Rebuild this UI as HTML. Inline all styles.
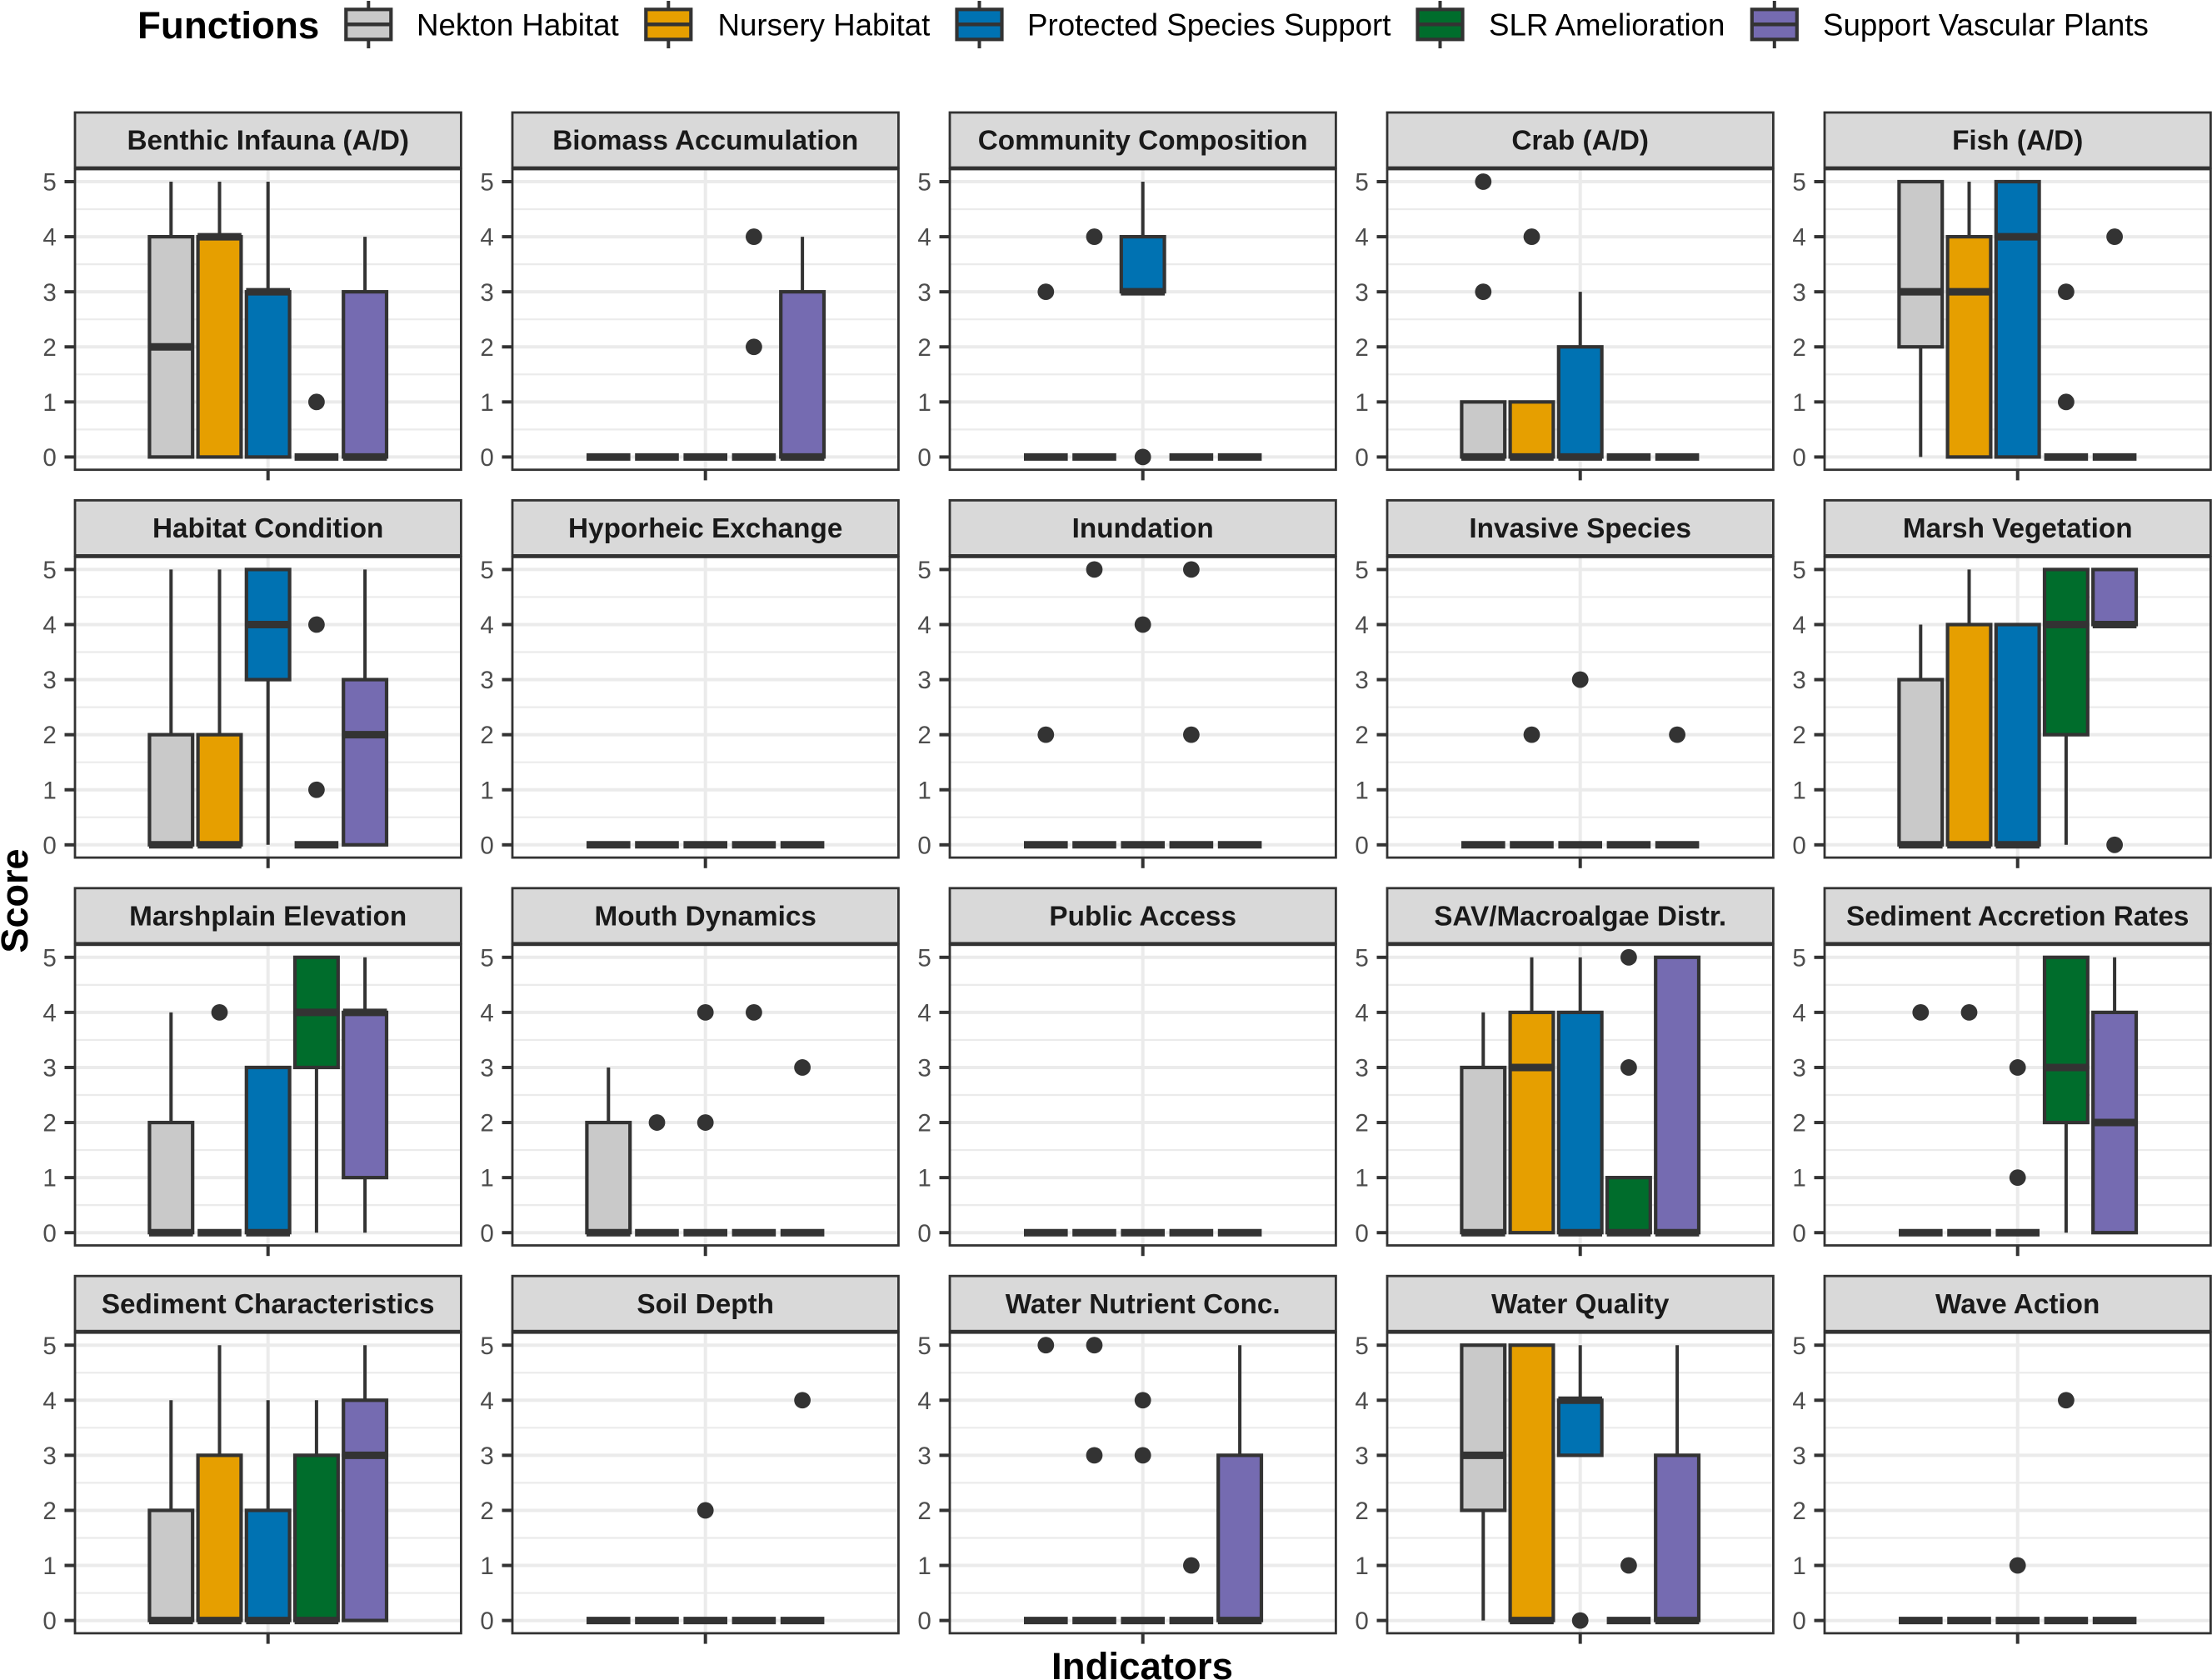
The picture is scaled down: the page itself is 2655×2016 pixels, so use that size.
<!DOCTYPE html>
<html lang="en">
<head>
<meta charset="utf-8">
<title>Indicator scores by function</title>
<style>
  html, body { margin: 0; padding: 0; background: #ffffff; }
  svg { display: block; font-family: "Liberation Sans", Arial, sans-serif; }
</style>
</head>
<body>
<svg id="chart" xmlns="http://www.w3.org/2000/svg" width="2655" height="2016" viewBox="0 0 2655 2016">
  <rect x="0" y="0" width="2655" height="2016" fill="#ffffff"/>

  <g>
    <text x="165" y="46" font-size="45.7" font-weight="700" fill="#000000">Functions</text>

    <g>
      <path d="M442.3 1V58" stroke="#333333" stroke-width="4" fill="none"/>
      <rect x="415.3" y="11.3" width="54" height="36" fill="#c9c9c9" stroke="#333333" stroke-width="4.2"/>
      <path d="M415.3 29.3H469.3" stroke="#333333" stroke-width="4.5" fill="none"/>
      <text x="500" y="42.5" font-size="36.7" fill="#000000">Nekton Habitat</text>
    </g>
    <g>
      <path d="M802.3 1V58" stroke="#333333" stroke-width="4" fill="none"/>
      <rect x="775.3" y="11.3" width="54" height="36" fill="#E69F00" stroke="#333333" stroke-width="4.2"/>
      <path d="M775.3 29.3H829.3" stroke="#333333" stroke-width="4.5" fill="none"/>
      <text x="861.5" y="42.5" font-size="36.7" fill="#000000">Nursery Habitat</text>
    </g>
    <g>
      <path d="M1175.5 1V58" stroke="#333333" stroke-width="4" fill="none"/>
      <rect x="1148.5" y="11.3" width="54" height="36" fill="#0072B2" stroke="#333333" stroke-width="4.2"/>
      <path d="M1148.5 29.3H1202.5" stroke="#333333" stroke-width="4.5" fill="none"/>
      <text x="1233" y="42.5" font-size="36.7" fill="#000000">Protected Species Support</text>
    </g>
    <g>
      <path d="M1728.5 1V58" stroke="#333333" stroke-width="4" fill="none"/>
      <rect x="1701.5" y="11.3" width="54" height="36" fill="#006D2C" stroke="#333333" stroke-width="4.2"/>
      <path d="M1701.5 29.3H1755.5" stroke="#333333" stroke-width="4.5" fill="none"/>
      <text x="1787" y="42.5" font-size="36.7" fill="#000000">SLR Amelioration</text>
    </g>
    <g>
      <path d="M2129.8 1V58" stroke="#333333" stroke-width="4" fill="none"/>
      <rect x="2102.8" y="11.3" width="54" height="36" fill="#756BB1" stroke="#333333" stroke-width="4.2"/>
      <path d="M2102.8 29.3H2156.8" stroke="#333333" stroke-width="4.5" fill="none"/>
      <text x="2188" y="42.5" font-size="36.7" fill="#000000">Support Vascular Plants</text>
    </g>
  </g>

  <g id="panels"></g>

  <text transform="translate(33 1081) rotate(-90)" text-anchor="middle" font-size="45" font-weight="700" fill="#000000">Score</text>
  <text x="1371" y="2015" text-anchor="middle" font-size="45.6" font-weight="700" fill="#000000">Indicators</text>
</svg>

<script>
// ---- chart data (one row per facet, one column per function) ----
const functionNames = ["Nekton Habitat", "Nursery Habitat", "Protected Species Support", "SLR Amelioration", "Support Vascular Plants"];
const functionColors = ["#c9c9c9", "#E69F00", "#0072B2", "#006D2C", "#756BB1"];
const panelTitles = [
  "Benthic Infauna (A/D)", "Biomass Accumulation", "Community Composition", "Crab (A/D)", "Fish (A/D)",
  "Habitat Condition", "Hyporheic Exchange", "Inundation", "Invasive Species", "Marsh Vegetation",
  "Marshplain Elevation", "Mouth Dynamics", "Public Access", "SAV/Macroalgae Distr.", "Sediment Accretion Rates",
  "Sediment Characteristics", "Soil Depth", "Water Nutrient Conc.", "Water Quality", "Wave Action"
];
const yTickLabels = [0, 1, 2, 3, 4, 5];
const yMinorBreaks = [0.5, 1.5, 2.5, 3.5, 4.5];

const whiskerLow = [
  [0,0,0,0,0],[0,0,0,0,0],[0,0,3,0,0],[0,0,0,0,0],[0,0,0,0,0],
  [0,0,0,0,0],[0,0,0,0,0],[0,0,0,0,0],[0,0,0,0,0],[0,0,0,0,4],
  [0,0,0,0,0],[0,0,0,0,0],[0,0,0,0,0],[0,0,0,0,0],[0,0,0,0,0],
  [0,0,0,0,0],[0,0,0,0,0],[0,0,0,0,0],[0,0,3,0,0],[0,0,0,0,0]
];
const quartile1 = [
  [0,0,0,0,0],[0,0,0,0,0],[0,0,3,0,0],[0,0,0,0,0],[2,0,0,0,0],
  [0,0,3,0,0],[0,0,0,0,0],[0,0,0,0,0],[0,0,0,0,0],[0,0,0,2,4],
  [0,0,0,3,1],[0,0,0,0,0],[0,0,0,0,0],[0,0,0,0,0],[0,0,0,2,0],
  [0,0,0,0,0],[0,0,0,0,0],[0,0,0,0,0],[2,0,3,0,0],[0,0,0,0,0]
];
const medians = [
  [2,4,3,0,0],[0,0,0,0,0],[0,0,3,0,0],[0,0,0,0,0],[3,3,4,0,0],
  [0,0,4,0,2],[0,0,0,0,0],[0,0,0,0,0],[0,0,0,0,0],[0,0,0,4,4],
  [0,0,0,4,4],[0,0,0,0,0],[0,0,0,0,0],[0,3,0,0,0],[0,0,0,3,2],
  [0,0,0,0,3],[0,0,0,0,0],[0,0,0,0,0],[3,0,4,0,0],[0,0,0,0,0]
];
const quartile3 = [
  [4,4,3,0,3],[0,0,0,0,3],[0,0,4,0,0],[1,1,2,0,0],[5,4,5,0,0],
  [2,2,5,0,3],[0,0,0,0,0],[0,0,0,0,0],[0,0,0,0,0],[3,4,4,5,5],
  [2,0,3,5,4],[2,0,0,0,0],[0,0,0,0,0],[3,4,4,1,5],[0,0,0,5,4],
  [2,3,2,3,4],[0,0,0,0,0],[0,0,0,0,3],[5,5,4,0,3],[0,0,0,0,0]
];
const whiskerHigh = [
  [5,5,5,0,4],[0,0,0,0,4],[0,0,5,0,0],[1,1,3,0,0],[5,5,5,0,0],
  [5,5,5,0,5],[0,0,0,0,0],[0,0,0,0,0],[0,0,0,0,0],[4,5,4,5,5],
  [4,0,3,5,5],[3,0,0,0,0],[0,0,0,0,0],[4,5,5,1,5],[0,0,0,5,5],
  [4,5,4,4,5],[0,0,0,0,0],[0,0,0,0,5],[5,5,5,0,5],[0,0,0,0,0]
];
const outlierValues = [
  [[],[],[],[1],[]],
  [[],[],[],[4,2],[]],
  [[3],[4],[0],[],[]],
  [[5,3],[4],[],[],[]],
  [[],[],[],[3,1],[4]],
  [[],[],[],[4,1],[]],
  [[],[],[],[],[]],
  [[2],[5],[4],[5,2],[]],
  [[],[2],[3],[],[2]],
  [[],[],[],[],[0]],
  [[],[4],[],[],[]],
  [[],[2],[4,2],[4],[3]],
  [[],[],[],[],[]],
  [[],[],[],[5,3],[]],
  [[4],[4],[3,1],[],[]],
  [[],[],[],[],[]],
  [[],[],[2],[],[4]],
  [[5],[5,3],[4,3],[1],[]],
  [[],[],[0],[1],[]],
  [[],[],[1],[4],[]]
];

// ---- layout constants ----
const NS = "http://www.w3.org/2000/svg";
const COLUMNS = 5;
const panelLeft0 = 90, panelWidth = 463.4, colPitch = 525;
const rowPitch = 465.4, stripTop0 = 135, stripHeight = 66, panelTop0 = 203;
const y5Row0 = 218, yUnit = 66.08, panelBottomPad = 15.3;
const dodge = 58.2, boxHalf = 25.9;
const darkInk = "#333333", gridInk = "#ebebeb";

function panelX(col) { return panelLeft0 + col * colPitch; }
function xScale(col, seriesIndex) { return panelX(col) + panelWidth / 2 + (seriesIndex - 2) * dodge; }
function yScale(row, value) { return y5Row0 + row * rowPitch + (5 - value) * yUnit; }

function make(tag, attrs, parent) {
  const el = document.createElementNS(NS, tag);
  for (const key in attrs) el.setAttribute(key, attrs[key]);
  parent.appendChild(el);
  return el;
}
function slug(text) { return text.toLowerCase().replace(/[^a-z0-9]+/g, "-").replace(/^-|-$/g, ""); }

const root = document.getElementById("panels");

panelTitles.forEach(function (title, p) {
  const col = p % COLUMNS;
  const row = Math.floor(p / COLUMNS);
  const left = panelX(col);
  const right = left + panelWidth;
  const center = left + panelWidth / 2;
  const top = panelTop0 + row * rowPitch;
  const bottom = yScale(row, 0) + panelBottomPad;

  const g = make("g", {}, root);
  
  

  const bg = make("rect", { x: left, y: top, width: panelWidth, height: bottom - top, fill: "#ffffff" }, g);
  
  

  yMinorBreaks.forEach(function (v) {
    const minor = make("line", { x1: left, x2: right, y1: yScale(row, v), y2: yScale(row, v), stroke: gridInk, "stroke-width": 2.2 }, g);
    
    
  });
  yTickLabels.forEach(function (v) {
    const major = make("line", { x1: left, x2: right, y1: yScale(row, v), y2: yScale(row, v), stroke: gridInk, "stroke-width": 4 }, g);
    
    
  });
  const vGrid = make("line", { x1: center, x2: center, y1: top, y2: bottom, stroke: gridInk, "stroke-width": 4 }, g);
  
  

  functionNames.forEach(function (fn, s) {
    const cx = xScale(col, s);
    const q1 = quartile1[p][s], q3 = quartile3[p][s];
    const lo = whiskerLow[p][s], hi = whiskerHigh[p][s], med = medians[p][s];

    const box = make("g", {}, g);
    
    

    outlierValues[p][s].forEach(function (v) {
      const dot = make("circle", { cx: cx, cy: yScale(row, v), r: 9.9, fill: darkInk }, box);
      
      
    });

    if (hi > q3) {
      const upper = make("line", { x1: cx, x2: cx, y1: yScale(row, q3), y2: yScale(row, hi), stroke: darkInk, "stroke-width": 4 }, box);
      
      
    }
    if (lo < q1) {
      const lower = make("line", { x1: cx, x2: cx, y1: yScale(row, q1), y2: yScale(row, lo), stroke: darkInk, "stroke-width": 4 }, box);
      
      
    }
    if (q3 > q1) {
      const body = make("rect", {
        x: cx - boxHalf, y: yScale(row, q3), width: boxHalf * 2, height: yScale(row, q1) - yScale(row, q3),
        fill: functionColors[s], stroke: darkInk, "stroke-width": 4.2
      }, box);
      
      
    }
    // A box collapsed onto one of its own outliers shows only the dot, no median bar.
    const isOutlierOnly = q1 === q3 && outlierValues[p][s].indexOf(q1) !== -1;
    if (!isOutlierOnly) {
      const medianBar = make("line", {
        x1: cx - 26.3, x2: cx + 26.3, y1: yScale(row, med), y2: yScale(row, med), stroke: darkInk, "stroke-width": 9
      }, box);
      
      
    }
  });

  const border = make("rect", { x: left, y: top, width: panelWidth, height: bottom - top, fill: "none", stroke: darkInk, "stroke-width": 2.8 }, g);
  
  

  const strip = make("rect", {
    x: left, y: stripTop0 + row * rowPitch, width: panelWidth, height: stripHeight,
    fill: "#d9d9d9", stroke: darkInk, "stroke-width": 2.8
  }, g);
  
  

  const stripLabel = make("text", {
    x: center, y: stripTop0 + row * rowPitch + 44.7, "text-anchor": "middle",
    "font-size": 33.3, "font-weight": 700, fill: "#1a1a1a"
  }, g);
  stripLabel.textContent = title;
  
  

  yTickLabels.forEach(function (v) {
    const tick = make("line", { x1: left - 12.5, x2: left, y1: yScale(row, v), y2: yScale(row, v), stroke: darkInk, "stroke-width": 4 }, g);
    
    
    const label = make("text", {
      x: left - 22.2, y: yScale(row, v) + 10.6, "text-anchor": "end", "font-size": 29.5, fill: "#4d4d4d"
    }, g);
    label.textContent = String(v);
    
    
  });

  const xTick = make("line", { x1: center, x2: center, y1: bottom, y2: bottom + 12.7, stroke: darkInk, "stroke-width": 4 }, g);
  
  
});
</script>
</body>
</html>
